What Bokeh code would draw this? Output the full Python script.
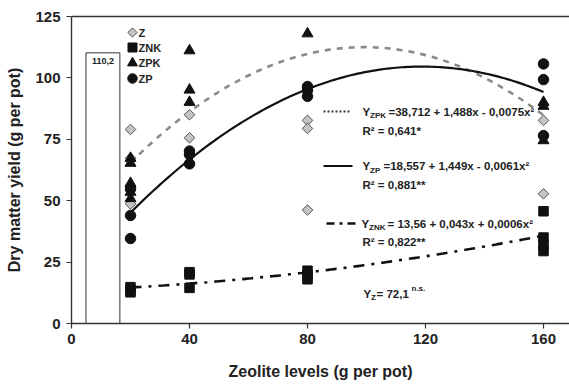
import numpy as np
from bokeh.plotting import figure
from bokeh.models import ColumnDataSource, LinearAxis, FixedTicker
from bokeh.core.properties import value
from bokeh.embed import file_html
from bokeh.resources import INLINE

# ---- data -------------------------------------------------------------
levels = [20, 40, 80, 160]

z_x = [20, 20, 20, 40, 40, 80, 80, 80, 160, 160]
z_y = [79.0, 67.3, 48.7, 85.0, 75.6, 82.7, 79.4, 46.2, 82.7, 52.8]

znk_x = [20, 20, 20, 40, 40, 40, 80, 80, 80, 160, 160, 160, 160]
znk_y = [14.8, 13.5, 12.7, 20.9, 20.0, 14.5, 21.5, 19.5, 18.0, 45.7, 35.0, 32.0, 29.5]

zpk_x = [20, 20, 20, 20, 20, 40, 40, 40, 80, 160, 160, 160]
zpk_y = [67.3, 65.3, 57.1, 53.5, 50.9, 111.1, 95.1, 90.1, 118.0, 90.1, 88.5, 74.5]

zp_x = [20, 20, 20, 40, 40, 40, 80, 80, 80, 160, 160, 160]
zp_y = [54.8, 44.0, 34.6, 70.2, 68.8, 65.0, 96.5, 95.0, 92.5, 105.7, 99.3, 76.5]

control_value = 110.2
control_label = "110,2"

# quadratic fits: (a, b, c) for a + b*x + c*x^2
fit_zpk = (38.712, 1.488, -0.0075)
fit_zp = (18.557, 1.449, -0.0061)
fit_znk = (13.56, 0.043, 0.0006)

y_ticks = [0, 25, 50, 75, 100, 125]
x_ticks = [0, 40, 80, 120, 160]

# ---- figure -----------------------------------------------------------
W, H = 569, 388
LEFT, RIGHT, TOP, BOTTOM = 71, 0, 16, 65
PX_PER_X = 2.95
X_END = (W - LEFT - RIGHT) / PX_PER_X
Y_END = 125.0
PX_PER_Y = (H - TOP - BOTTOM) / Y_END

FONT = "Liberation Sans"
INK = "#222222"

p = figure(width=W, height=H, x_range=(0, X_END), y_range=(0, Y_END),
           output_backend="svg", toolbar_location=None,
           min_border_left=LEFT, min_border_right=RIGHT,
           min_border_top=TOP, min_border_bottom=BOTTOM,
           x_axis_label="Zeolite levels (g per pot)",
           y_axis_label="Dry matter yield (g per pot)")
p.outline_line_color = None
p.grid.visible = False
p.background_fill_color = "white"
p.border_fill_color = "white"

for ax in (p.xaxis[0], p.yaxis[0]):
    ax.axis_line_color = "#333333"
    ax.axis_line_width = 1.4
    ax.major_tick_line_color = "#333333"
    ax.major_tick_line_width = 1.2
    ax.major_tick_out = 5
    ax.major_tick_in = 0
    ax.minor_tick_line_color = None
    ax.major_label_text_font = FONT
    ax.major_label_text_font_style = "bold"
    ax.major_label_text_font_size = "15px"
    ax.major_label_text_color = INK
    ax.axis_label_text_font = FONT
    ax.axis_label_text_font_style = "bold"
    ax.axis_label_text_font_size = "16px"
    ax.axis_label_text_color = INK

p.xaxis[0].ticker = FixedTicker(ticks=x_ticks)
p.yaxis[0].ticker = FixedTicker(ticks=y_ticks)
p.xaxis[0].major_label_standoff = 5
p.xaxis[0].axis_label_standoff = 16
p.yaxis[0].major_label_standoff = 6
p.yaxis[0].axis_label_standoff = 9

# top frame line
top = LinearAxis(ticker=FixedTicker(ticks=[]), major_label_text_font_size="0px",
                 axis_line_color="#333333", axis_line_width=1.4,
                 major_tick_line_color=None, minor_tick_line_color=None)
p.add_layout(top, "above")

# ---- control bar ------------------------------------------------------
bar_center, bar_width = 10.65, 11.5
p.vbar(x=[bar_center], top=[control_value], width=bar_width, bottom=0,
       fill_color="white", line_color="#333333", line_width=1.0)
p.text(x=[bar_center], y=[control_value - 3.2], text=[control_label],
       text_font=value(FONT), text_font_style="bold", text_font_size="9px",
       text_align="center", text_baseline="middle", text_color=INK)

# ---- fitted curves ----------------------------------------------------
xs = np.linspace(20, 160, 141)


def quad(c, x):
    return c[0] + c[1] * x + c[2] * x ** 2


p.line(xs, quad(fit_zpk, xs), line_color="#8a8a8a", line_width=2.6, line_dash="6 6")
p.line(xs, quad(fit_zp, xs), line_color="#111111", line_width=2.2)
p.line(xs, quad(fit_znk, xs), line_color="#111111", line_width=2.6, line_dash="11 7 3 7")

# ---- observations -----------------------------------------------------
p.scatter(z_x, z_y, marker="square", angle=np.pi / 4, size=7.5,
          fill_color="#c4c4c4", line_color="#555555", line_width=1)
p.scatter(znk_x, znk_y, marker="square", size=9.5, fill_color="#111111", line_color="#111111")
p.scatter(zpk_x, zpk_y, marker="triangle", size=11, fill_color="#111111", line_color="#111111")
p.scatter(zp_x, zp_y, marker="circle", size=10.5, fill_color="#111111", line_color="#111111")


# ---- helpers for placing annotation text in pixel layout ----------------
def dx(px):
    return (px - LEFT) / PX_PER_X


def dy(py):
    return (H - BOTTOM - py) / PX_PER_Y


MAIN, SMALL = "11.5px", "8px"
ann = dict(x=[], y=[], text=[], size=[])


def put(x_px, y_px, s, size):
    ann["x"].append(dx(x_px))
    ann["y"].append(dy(y_px))
    ann["text"].append(s)
    ann["size"].append(size)


# fitted equations: symbol, subscript, then the expression
put(362, 111, "Y", MAIN)
put(369.5, 115, "ZPK", SMALL)
put(388, 111, "=38,712 + 1,488x - 0,0075x²", MAIN)
put(362, 130, "R² = 0,641*", MAIN)

put(362, 165.5, "Y", MAIN)
put(369.5, 169.5, "ZP", SMALL)
put(383, 165.5, "=18,557 + 1,449x - 0,0061x²", MAIN)
put(362, 184, "R² = 0,881**", MAIN)

put(361, 223, "Y", MAIN)
put(368.5, 227, "ZNK", SMALL)
put(387, 223, "= 13,56 + 0,043x + 0,0006x²", MAIN)
put(362, 241, "R² = 0,822**", MAIN)

put(363, 293, "Y", MAIN)
put(370.5, 297, "Z", SMALL)
put(376, 293, "= 72,1", MAIN)
put(411, 287.5, "n.s.", SMALL)

p.text(x="x", y="y", text="text", text_font_size="size", source=ColumnDataSource(ann),
       text_font=value(FONT), text_font_style="bold", text_align="left",
       text_baseline="middle", text_color=INK)

# line samples next to the equations
p.line([dx(323), dx(349)], [dy(111), dy(111)], line_color="#333333", line_width=2, line_dash="2 2")
p.line([dx(323), dx(352)], [dy(165.5), dy(165.5)], line_color="#111111", line_width=2.2)
p.line([dx(326), dx(355)], [dy(223), dy(223)], line_color="#111111", line_width=2.4, line_dash="8 5 3 5")

# ---- key of the four treatments ---------------------------------------
key_names = ["Z", "ZNK", "ZPK", "ZP"]
key_rows = [32, 47, 62.5, 78]
key_x = dx(132)
p.scatter([key_x], [dy(key_rows[0])], marker="square", angle=np.pi / 4, size=6.5,
          fill_color="#c4c4c4", line_color="#555555", line_width=1)
p.scatter([key_x], [dy(key_rows[1])], marker="square", size=9, fill_color="#111111", line_color="#111111")
p.scatter([key_x], [dy(key_rows[2])], marker="triangle", size=10, fill_color="#111111", line_color="#111111")
p.scatter([key_x], [dy(key_rows[3])], marker="circle", size=9.5, fill_color="#111111", line_color="#111111")
p.text(x=[dx(138)] * 4, y=[dy(r) for r in key_rows], text=key_names,
       text_font=value(FONT), text_font_style="bold", text_font_size="11px",
       text_align="left", text_baseline="middle", text_color=INK)

open("out.html", "w").write(file_html(p, INLINE))
